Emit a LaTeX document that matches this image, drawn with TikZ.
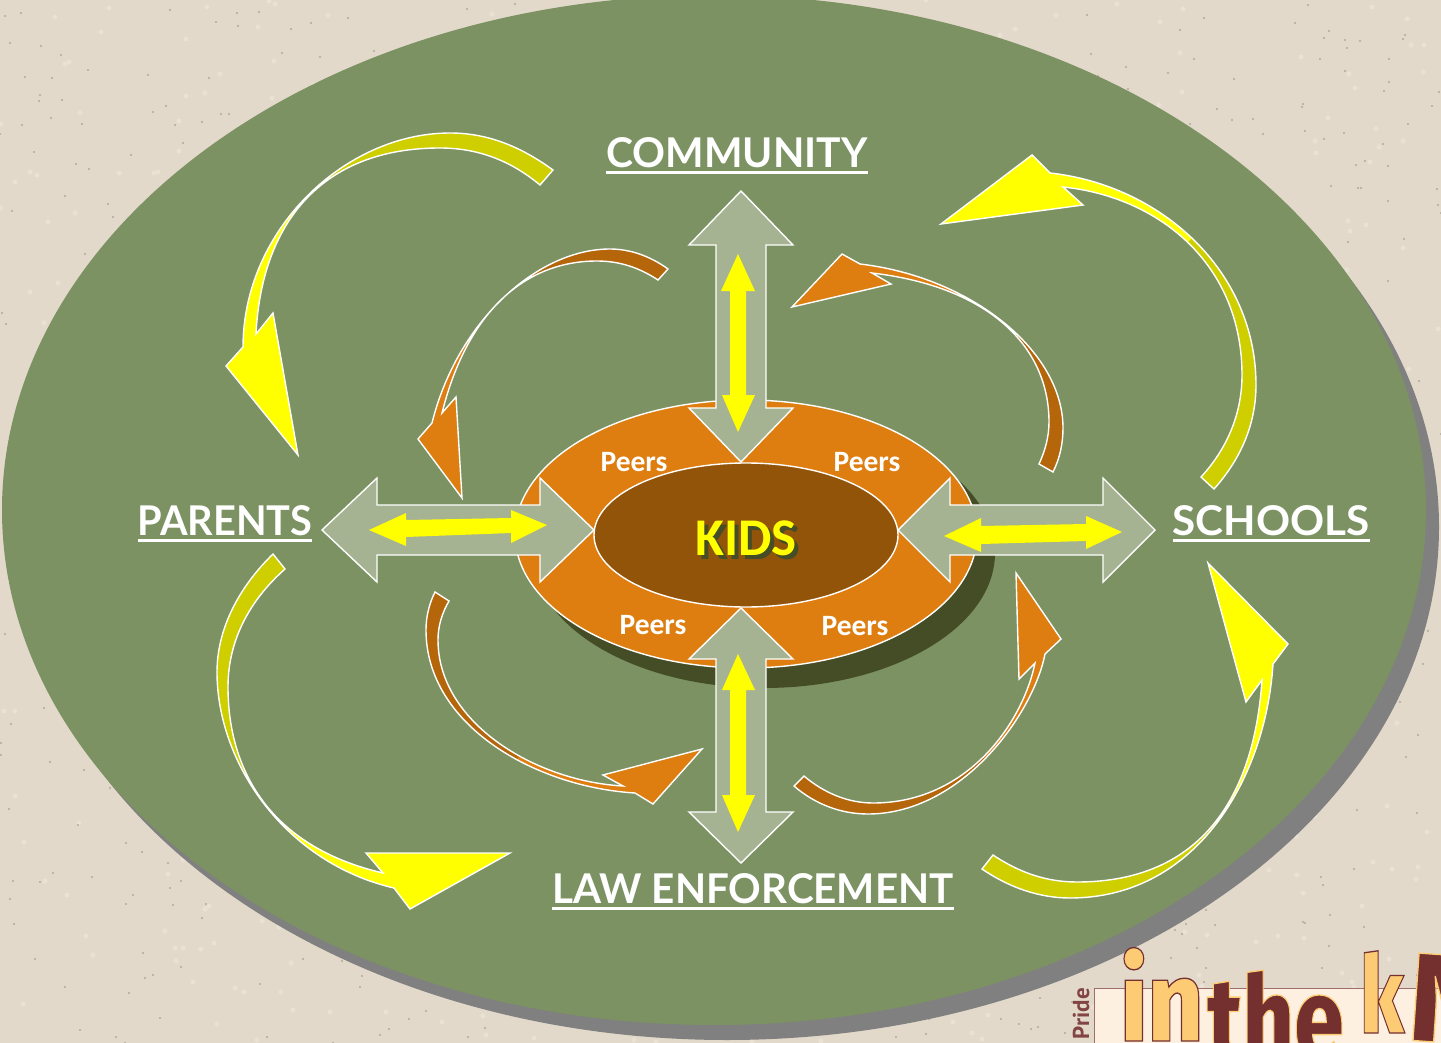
\documentclass[tikz,border=0pt]{standalone}
\usepackage{fontspec}
\setmainfont{Carlito}
\newfontfamily\labfont{Lato}
\newfontfamily\logofont{Fira Sans ExtraBold}
\newfontfamily\pridefont{PT Sans}
\definecolor{bgcol}{HTML}{E2D9CA}
\definecolor{speck}{HTML}{7F796C}
\definecolor{speckl}{HTML}{EFE8DB}
\definecolor{greenfield}{HTML}{7C9263}
\definecolor{greyshadow}{HTML}{808080}
\definecolor{darkshadow}{HTML}{454D26}
\definecolor{orangering}{HTML}{DE7D10}
\definecolor{browncore}{HTML}{925409}
\definecolor{sage}{HTML}{A5B392}
\definecolor{olivey}{HTML}{CFCF00}
\definecolor{rusty}{HTML}{B5650A}
\definecolor{pureyellow}{HTML}{FFFF00}
\definecolor{logocream}{HTML}{FDF0E0}
\definecolor{logopale}{HTML}{FCCB73}
\definecolor{logomaroon}{HTML}{742F2F}
\newsavebox{\ulbox}
\newcommand{\ulab}[1]{\sbox{\ulbox}{#1}\rlap{\rule[-6pt]{\wd\ulbox}{3pt}}\usebox{\ulbox}}
\newcommand{\outl}[2]{\special{pdf:code #1 RG 1.3 w 2 Tr}#2\special{pdf:code 0 Tr}}
\newcommand{\ribbon}[4]{%
  \fill[#2] #4;
  \begin{scope}\clip #3; \fill[#1] #4;\end{scope}
  \draw[outlined] #4;}
\tikzset{
  x=1pt,y=-1pt,
  outlined/.style={draw=white,line width=1.4pt,line join=miter,miter limit=6},
  sagearrow/.style={outlined,fill=sage},
  yelarrow/.style={fill=pureyellow,draw=none},
  ringlabel/.style={text=white,font=\bfseries\fontsize{29.5}{30}\selectfont,inner sep=0pt},
  kidslabel/.style={inner sep=0pt,font=\bfseries\fontsize{53}{53}\selectfont},
  toplabel/.style={text=white,font=\labfont\bfseries\fontsize{41}{41}\selectfont,inner sep=0pt},
  logotext/.style={anchor=base west,inner sep=0pt},
}
\begin{document}
\begin{tikzpicture}
\useasboundingbox (0,0) rectangle (1441,1043);
\clip (0,0) rectangle (1441,1043);
\fill[bgcol] (0,0) rectangle (1441,1043);
\pgfmathsetseed{17}
\foreach \i in {1,...,700}{
  \pgfmathsetmacro{\px}{random(0,1441)}
  \pgfmathsetmacro{\py}{random(0,1043)}
  \fill[speckl,opacity=.6] (\px,\py) circle (2.6pt);
}
\foreach \i in {1,...,900}{
  \pgfmathsetmacro{\px}{random(0,1441)}
  \pgfmathsetmacro{\py}{random(0,1043)}
  \fill[speck,opacity=.5] (\px,\py) circle (1.1pt);
}
% field
\fill[greyshadow] (727,527) ellipse [x radius=712,y radius=513];
\fill[greenfield] (714,510) ellipse [x radius=712,y radius=515];
% ring
\fill[darkshadow] (764,553) ellipse [x radius=231,y radius=135];
\draw[outlined,fill=orangering] (746,534) ellipse [x radius=231,y radius=134];
\draw[outlined,fill=browncore] (746,535) ellipse [x radius=152,y radius=72];
% labels in ring
\node[ringlabel] (p1) at (634,462) {Peers};
\node[ringlabel] (p2) at (867,462) {Peers};
\node[ringlabel] (p3) at (653,625) {Peers};
\node[ringlabel] (p4) at (855,626) {Peers};
\node[kidslabel,text=darkshadow] (kidsshadow) at (750,542) {KIDS};
\node[kidslabel,text=pureyellow] (kids) at (746,538) {KIDS};
% top double arrow
\draw[sagearrow] (741,191)--(793,245)--(766,245)--(766,408)--(793,408)--(741,462)--(689,408)--(716,408)--(716,245)--(689,245)--cycle;
\fill[yelarrow] (738,254)--(755,291)--(746,291)--(746,395)--(755,395)--(738,432)--(722,395)--(730,395)--(730,291)--(721,291)--cycle;
% bottom double arrow
\draw[sagearrow] (741,608)--(793,659)--(766,659)--(766,812)--(793,812)--(741,863)--(689,812)--(716,812)--(716,659)--(689,659)--cycle;
\fill[yelarrow] (738,654)--(755,690)--(746,690)--(746,795)--(755,795)--(738,832)--(722,795)--(730,795)--(730,690)--(722,690)--cycle;
% left double arrow
\draw[sagearrow] (322,530)--(377,478)--(377,505)--(540,505)--(540,478)--(594,530)--(540,582)--(540,555)--(377,555)--(377,582)--cycle;
\fill[yelarrow] (369,530)--(406,513)--(406,520)--(511,518)--(511,510)--(547,525)--(511,543)--(511,533)--(406,537)--(406,546)--cycle;
% right double arrow
\draw[sagearrow] (898,530)--(950,478)--(950,505)--(1103,505)--(1103,478)--(1155,530)--(1103,582)--(1103,555)--(950,555)--(950,582)--cycle;
\fill[yelarrow] (944,536)--(981,518)--(981,526)--(1086,524)--(1086,516)--(1122,532)--(1086,549)--(1086,541)--(981,544)--(981,552)--cycle;
% curved arrows
\ribbon{olivey}{pureyellow}{(207,98)--(407,298)--(900,298)--(900,0)--(207,0)--cycle}
 {(553,170) .. controls (520,146) and (487,133) .. (450,133) .. controls (345,133) and (243,230) .. (243,347) -- (226,366) -- (298,455) -- (273,313) -- (256,334) .. controls (262,219) and (325,148) .. (440,148) .. controls (477,148) and (510,160) .. (540,185) -- cycle}
\ribbon{rusty}{orangering}{(403,198)--(603,398)--(900,398)--(900,100)--(403,100)--cycle}
 {(668,269) .. controls (650,256) and (630,249) .. (610,249) .. controls (537,249) and (457,322) .. (432,423) -- (418,439) -- (462,498) -- (456,397) -- (442,413) .. controls (468,309) and (527,261) .. (597,261) .. controls (620,261) and (640,268) .. (658,280) -- cycle}
\ribbon{olivey}{pureyellow}{(168,906)--(368,706)--(368,500)--(150,500)--(150,906)--cycle}
 {(273,554) .. controls (238,588) and (217,630) .. (217,672) .. controls (217,764) and (286,863) .. (394,888) -- (410,909) -- (510,853) -- (366,853) -- (383,873) .. controls (267,846) and (228,767) .. (228,687) .. controls (228,640) and (250,600) .. (285,569) -- cycle}
\ribbon{rusty}{orangering}{(445,862)--(585,662)--(585,560)--(400,560)--(400,862)--cycle}
 {(435,592) .. controls (429,604) and (426,617) .. (426,630) .. controls (426,725) and (535,787) .. (635,793) -- (653,804) -- (702,749) -- (603,775) -- (623,786) .. controls (534,781) and (438,722) .. (438,640) .. controls (438,626) and (442,613) .. (449,601) -- cycle}
\ribbon{rusty}{orangering}{(887,657)--(1087,857)--(780,857)--(780,657)--cycle}
 {(794,786) .. controls (816,805) and (842,814) .. (868,814) .. controls (961,814) and (1033,715) .. (1045,654) -- (1061,639) -- (1016,573) -- (1019,679) -- (1035,663) .. controls (1023,722) and (968,803) .. (873,803) .. controls (848,803) and (824,793) .. (804,776) -- cycle}
\ribbon{olivey}{pureyellow}{(1117,723)--(1317,923)--(960,923)--(960,723)--cycle}
 {(982,869) .. controls (1010,888) and (1040,898) .. (1070,898) .. controls (1198,898) and (1266,776) .. (1273,664) -- (1288,644) -- (1208,563) -- (1246,702) -- (1262,680) .. controls (1254,797) and (1201,882) .. (1077,882) .. controls (1047,882) and (1020,873) .. (993,855) -- cycle}
\ribbon{olivey}{pureyellow}{(1087,343)--(1287,143)--(1300,143)--(1300,520)--(1087,520)--cycle}
 {(1214,489) .. controls (1240,460) and (1256,425) .. (1256,385) .. controls (1256,270) and (1160,185) .. (1050,173) -- (1032,155) -- (941,224) -- (1083,205) -- (1063,187) .. controls (1160,197) and (1242,265) .. (1242,375) .. controls (1242,415) and (1226,450) .. (1201,477) -- cycle}
\ribbon{rusty}{orangering}{(915,410)--(1055,210)--(1100,210)--(1100,500)--(915,500)--cycle}
 {(1053,472) .. controls (1060,458) and (1063,443) .. (1063,428) .. controls (1063,351) and (971,277) .. (860,264) -- (842,254) -- (792,307) -- (891,284) -- (872,273) .. controls (991,287) and (1049,348) .. (1049,422) .. controls (1049,437) and (1045,451) .. (1039,464) -- cycle}
% main labels
\node[toplabel] (community) at (737,156) {\ulab{\scalebox{.995}[1]{COMMUNITY}}};
\node[toplabel] (parents) at (225,524) {\ulab{\scalebox{.97}[1]{PARENTS}}};
\node[toplabel] (schools) at (1271,524) {\ulab{\scalebox{1.03}[1]{SCHOOLS}}};
\node[toplabel] (law) at (753,892) {\ulab{\scalebox{.985}[1]{LAW ENFORCEMENT}}};
% logo
\draw[draw=logomaroon!70!white,fill=logocream,line width=1pt] (1094,988) rectangle (1460,1060);
\node[rotate=90,anchor=east,inner sep=0pt,text=logomaroon!90!white,font=\pridefont\bfseries\fontsize{23}{23}\selectfont] (pride) at (1081,988) {Pride};
\node[logotext,text=logopale,font=\logofont\fontsize{114}{114}\selectfont] (logoin) at (1120,1041) {\scalebox{.85}[1]{\outl{.455 .184 .184}{in}}};
\node[logotext,text=logomaroon,font=\logofont\fontsize{118}{118}\selectfont] (logothe) at (1207,1060) {\scalebox{.76}[1]{\outl{.99 .8 .45}{the}}};
\node[logotext,text=logopale,font=\logofont\fontsize{108}{108}\selectfont] (logok) at (1360,1033) {\scalebox{.72}[1]{\outl{.455 .184 .184}{k}}};
\node[logotext,rotate=-4,text=logomaroon,font=\logofont\fontsize{126}{126}\selectfont] (logon) at (1406,1040) {\outl{.99 .8 .45}{N}};
\end{tikzpicture}
\end{document}
